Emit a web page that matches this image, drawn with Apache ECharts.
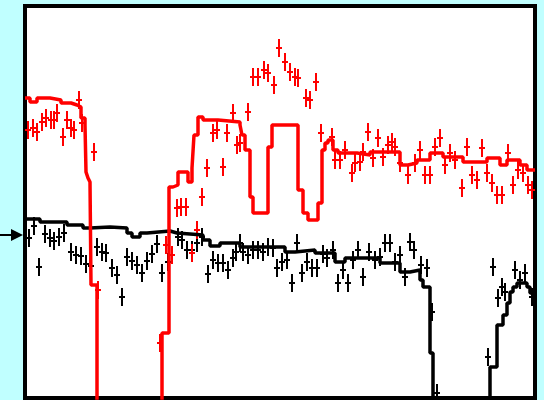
<!DOCTYPE html>
<html>
<head>
<meta charset="utf-8">
<script src="https://cdn.jsdelivr.net/npm/echarts@6/dist/echarts.min.js"></script>
<style>
  html, body { margin: 0; padding: 0; background: #c0ffff; }
  #chartDom { width: 544px; height: 400px; }
</style>
</head>
<body>
<div id="chartDom"></div>
<script>
// model curves: [channel, counts], value holds until next channel
const redModel = [[0,300],[5,296],[12,300],[25,298],[36,295],[46,293],[52,291],[56,280],[60,273],[61,226],[63,220],[65,216],[66,113],[72,-30],
  [137,65],[144,211],[148,213],[153,226],[163,216],[167,230],[169,263],[173,281],[178,278],[193,276],[215,273],[217,263],[220,248],
  [225,201],[228,185],[243,251],[247,273],[273,208],[278,185],[283,178],[293,195],[297,248],[300,255],[303,258],[308,248],[313,245],
  [332,243],[345,246],[375,233],[383,235],[392,238],[405,245],[418,241],[438,236],[462,240],[475,233],[482,238],[495,233],[502,228],[510,228]];
const blackModel = [[0,179],[15,176],[42,173],[58,170],[65,171],[85,170],[102,165],[107,161],[115,165],[122,167],[145,165],[152,163],
  [178,158],[185,152],[195,155],[215,151],[260,146],[270,148],[290,145],[310,136],[320,140],[355,135],[375,126],[385,128],[395,118],
  [398,111],[405,45],[408,-30],[465,31],[472,73],[478,83],[482,95],[485,106],[488,111],[492,115],[502,111],[505,105],[510,105]];

// measured points: [channel, counts]
const redData = [[3,268],[8,270],[12,266],[17,276],[21,280],[26,278],[29,278],[32,285],[38,261],[42,278],[46,270],[49,268],[54,298],
  [57,275],[69,246],[73,108],[135,55],[141,153],[147,143],[152,190],[156,191],[161,191],[167,145],[172,168],[177,201],[182,230],
  [188,265],[192,268],[198,231],[202,265],[208,285],[212,253],[215,255],[223,286],[228,321],[233,321],[239,328],[243,325],[249,313],
  [254,350],[260,336],[265,326],[270,321],[273,320],[281,300],[285,298],[291,316],[296,265],[307,261],[310,238],[315,238],[320,248],
  [327,225],[330,235],[335,236],[338,246],[343,266],[348,240],[353,260],[358,241],[363,253],[367,256],[370,251],[375,235],[383,223],
  [390,235],[395,248],[400,223],[405,223],[410,251],[415,260],[420,233],[425,245],[430,238],[437,210],[442,251],[447,223],[452,218],
  [457,250],[462,225],[467,215],[472,203],[477,203],[483,245],[488,213],[493,228],[498,225],[503,213],[507,208]];
const blackData = [[4,160],[9,172],[14,131],[20,164],[25,160],[29,157],[34,161],[39,165],[46,146],[51,143],[56,142],[61,134],[66,132],
  [72,151],[77,146],[81,145],[87,130],[92,123],[97,101],[102,141],[107,137],[112,133],[117,125],[122,137],[127,144],[132,154],
  [137,125],[143,136],[153,161],[157,158],[162,148],[167,148],[172,155],[177,161],[183,124],[188,138],[193,135],[198,135],[203,128],
  [208,140],[211,146],[215,155],[218,146],[223,143],[228,148],[233,148],[238,146],[243,151],[248,150],[252,130],[257,136],[262,138],
  [267,115],[272,155],[277,125],[282,136],[287,130],[292,130],[298,144],[302,140],[308,148],[313,115],[318,128],[323,115],[328,138],
  [333,148],[338,121],[344,146],[350,138],[355,141],[360,155],[365,155],[370,136],[375,143],[380,121],[385,156],[389,148],[396,133],
  [402,130],[407,86],[412,5],[463,41],[468,131],[473,100],[477,111],[480,106],[490,128],[495,118],[500,125],[507,101]];

const errY = 9;   // vertical error half-length
const errX = 3;   // bin half-width

let chart = echarts.init(document.getElementById("chartDom"));

function crossSeries(data, color) {
  return {
    type: "custom",
    clip: true,
    data: data,
    z: 2,
    renderItem: function (params, api) {
      const x = api.value(0), y = api.value(1);
      const top = api.coord([x, y + errY]);
      const bot = api.coord([x, y - errY]);
      const lft = api.coord([x - errX, y]);
      const rgt = api.coord([x + errX, y]);
      const st = { stroke: color, lineWidth: 2 };
      return {
        type: "group",
        children: [
          { type: "line", shape: { x1: top[0], y1: top[1], x2: bot[0], y2: bot[1] }, style: st },
          { type: "line", shape: { x1: lft[0], y1: lft[1], x2: rgt[0], y2: rgt[1] }, style: st }
        ]
      };
    }
  };
}

chart.setOption({
  backgroundColor: "#c0ffff",
  animation: false,
  grid: {
    left: 25, right: 9, top: 6, bottom: 2,
    show: true,
    backgroundColor: "#ffffff",
    borderColor: "#000000",
    borderWidth: 4
  },
  xAxis: {
    type: "value", min: 0, max: 510,
    axisLine: { show: false }, axisTick: { show: false },
    axisLabel: { show: false }, splitLine: { show: false }
  },
  yAxis: {
    type: "value", min: 0, max: 392,
    axisLine: { show: false }, axisTick: { show: false },
    axisLabel: { show: false }, splitLine: { show: false }
  },
  graphic: [
    {
      type: "group",
      children: [
        { type: "line", shape: { x1: 0, y1: 235, x2: 13, y2: 235 }, style: { stroke: "#000", lineWidth: 2 } },
        { type: "polygon", shape: { points: [[11, 229], [23, 235], [11, 241]] }, style: { fill: "#000" } }
      ]
    }
  ],
  series: [
    crossSeries(blackData, "#000000"),
    {
      type: "line", data: blackModel, step: "end", symbol: "none", clip: true, z: 3,
      lineStyle: { color: "#000000", width: 3.5 }
    },
    crossSeries(redData, "#ff0000"),
    {
      type: "line", data: redModel, step: "end", symbol: "none", clip: true, z: 4,
      lineStyle: { color: "#ff0000", width: 3.5 }
    }
  ]
});
</script>
</body>
</html>
